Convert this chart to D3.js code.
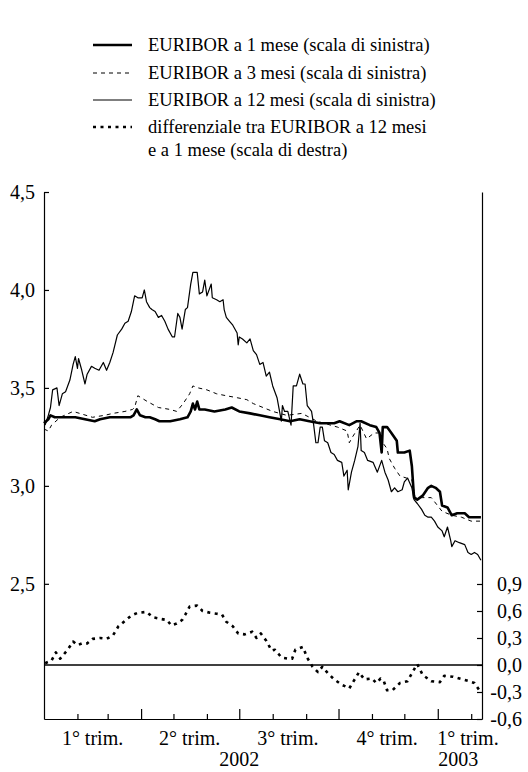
<!DOCTYPE html>
<html>
<head>
<meta charset="utf-8">
<script src="https://cdn.jsdelivr.net/npm/d3@7"></script>
<style>
  html, body { margin: 0; padding: 0; background: #fff; }
  svg { display: block; }
  svg text { font-family: "Liberation Serif", "Times New Roman", Times, "DejaVu Serif", serif; fill: #000; }
</style>
</head>
<body>
<svg id="chart" width="528" height="772"></svg>
<script>
// Daily EURIBOR rates, 2002 - early 2003. Each point is [days since 1 Jan 2002, rate %].
const euribor1m = [
  [0,3.32],[4,3.34],[6,3.36],[10,3.35],[19,3.35],[29,3.35],[38,3.34],[47,3.33],[52,3.34],
  [61,3.35],[70,3.35],[80,3.35],[83,3.36],[86,3.39],[89,3.36],[94,3.35],[98,3.35],[103,3.34],
  [107,3.33],[117,3.33],[126,3.34],[133,3.35],[136,3.38],[138,3.42],[140,3.39],[142,3.43],
  [144,3.39],[149,3.39],[158,3.38],[168,3.39],[174,3.40],[181,3.38],[191,3.37],[200,3.36],
  [209,3.35],[219,3.34],[228,3.33],[237,3.34],[246,3.33],[256,3.32],[269,3.32],[274,3.33],
  [283,3.31],[290,3.33],[294,3.33],[302,3.31],[308,3.30],[311,3.27],[313,3.17],[314,3.30],
  [318,3.30],[322,3.27],[327,3.23],[328,3.17],[334,3.17],[339,3.18],[341,3.10],[343,2.94],
  [346,2.93],[351,2.95],[356,2.99],[359,3.00],[363,2.99],[367,2.97],[369,2.90],[374,2.89],
  [378,2.85],[383,2.86],[390,2.86],[394,2.84],[405,2.84]
];
const euribor3m = [
  [0,3.29],[4,3.28],[7,3.31],[15,3.35],[27,3.38],[33,3.37],[45,3.35],[56,3.36],[64,3.37],
  [75,3.38],[82,3.39],[84,3.40],[87,3.46],[96,3.43],[106,3.40],[117,3.39],[123,3.38],
  [129,3.42],[135,3.47],[138,3.51],[143,3.50],[151,3.49],[160,3.47],[169,3.46],[179,3.45],
  [188,3.44],[194,3.42],[203,3.40],[212,3.38],[225,3.36],[239,3.37],[246,3.35],[253,3.33],
  [272,3.30],[281,3.28],[283,3.22],[286,3.25],[293,3.31],[299,3.24],[306,3.27],[311,3.27],
  [314,3.22],[318,3.19],[320,3.14],[325,3.09],[330,3.05],[336,3.04],[341,3.03],[344,2.94],
  [351,2.94],[359,2.94],[369,2.87],[378,2.85],[387,2.84],[396,2.82],[405,2.82]
];
const euribor12m = [
  [1,3.31],[4,3.36],[6,3.40],[8,3.49],[12,3.50],[14,3.41],[17,3.47],[20,3.48],[24,3.54],
  [27,3.62],[29,3.66],[31,3.60],[32,3.65],[35,3.59],[38,3.52],[40,3.57],[44,3.61],[47,3.60],
  [51,3.59],[55,3.63],[58,3.59],[61,3.63],[64,3.68],[68,3.77],[72,3.80],[75,3.83],[78,3.84],
  [81,3.89],[84,3.97],[87,3.96],[91,3.96],[93,4.00],[95,3.94],[98,3.91],[100,3.90],[103,3.89],
  [106,3.86],[109,3.87],[112,3.84],[115,3.80],[119,3.76],[121,3.76],[124,3.88],[126,3.86],
  [128,3.80],[131,3.90],[133,3.91],[136,4.03],[138,4.09],[142,4.09],[144,3.98],[147,3.99],
  [149,4.05],[151,3.97],[155,4.03],[156,3.96],[160,3.95],[163,3.94],[166,3.95],[167,3.90],
  [169,3.86],[172,3.84],[175,3.82],[179,3.78],[180,3.72],[181,3.76],[184,3.75],[188,3.73],
  [191,3.75],[194,3.69],[197,3.67],[200,3.62],[203,3.63],[206,3.56],[209,3.58],[212,3.51],
  [216,3.45],[218,3.39],[220,3.33],[221,3.41],[223,3.38],[226,3.38],[229,3.31],[231,3.51],
  [234,3.51],[237,3.57],[240,3.52],[242,3.52],[244,3.41],[248,3.38],[250,3.31],[252,3.22],
  [254,3.22],[256,3.30],[258,3.30],[260,3.23],[263,3.22],[266,3.17],[269,3.16],[272,3.13],
  [276,3.12],[278,3.05],[281,3.08],[282,2.98],[285,3.07],[288,3.13],[291,3.20],[293,3.32],
  [294,3.18],[297,3.17],[300,3.13],[305,3.12],[309,3.07],[313,3.13],[316,3.07],[319,3.03],
  [322,2.97],[325,2.99],[328,2.97],[332,2.98],[334,3.02],[337,3.04],[341,2.99],[343,2.93],
  [346,2.91],[350,2.88],[353,2.85],[356,2.84],[359,2.84],[362,2.82],[365,2.79],[369,2.77],
  [371,2.74],[374,2.79],[377,2.72],[378,2.69],[381,2.72],[385,2.71],[390,2.70],[393,2.66],
  [396,2.65],[399,2.66],[402,2.65],[405,2.62]
];
// Spread between 12-month and 1-month EURIBOR (percentage points, right-hand scale).
const spread12m1m = [
  [1,0.02],[7,0.05],[11,0.14],[15,0.07],[22,0.17],[27,0.26],[31,0.22],[35,0.24],[40,0.24],
  [45,0.29],[52,0.30],[58,0.29],[64,0.33],[69,0.43],[75,0.49],[81,0.55],[87,0.58],[95,0.59],
  [101,0.53],[109,0.51],[114,0.50],[118,0.44],[123,0.46],[128,0.50],[131,0.56],[135,0.65],
  [142,0.66],[147,0.60],[154,0.58],[160,0.57],[165,0.56],[169,0.48],[175,0.43],[180,0.35],
  [186,0.34],[193,0.37],[197,0.30],[201,0.35],[206,0.27],[211,0.16],[214,0.17],[219,0.10],
  [221,0.08],[226,0.07],[230,0.07],[233,0.17],[240,0.20],[244,0.08],[249,-0.02],[254,-0.08],
  [258,-0.02],[263,-0.09],[269,-0.16],[276,-0.22],[280,-0.24],[283,-0.26],[287,-0.18],
  [292,-0.08],[297,-0.16],[304,-0.15],[308,-0.20],[312,-0.15],[315,-0.18],[318,-0.28],
  [323,-0.28],[330,-0.20],[337,-0.18],[342,-0.07],[346,0.01],[351,-0.11],[359,-0.18],
  [367,-0.19],[371,-0.12],[379,-0.13],[388,-0.16],[394,-0.18],[399,-0.20],[404,-0.29]
];

const leftTicks = [2.5, 3.0, 3.5, 4.0, 4.5];
const rightTicks = [-0.6, -0.3, 0.0, 0.3, 0.6, 0.9];
const quarterLabels = [
  ["2002-02-15", "1° trim."], ["2002-05-16", "2° trim."], ["2002-08-15", "3° trim."],
  ["2002-11-15", "4° trim."], ["2003-01-29", "1° trim."]
];
const yearLabels = [["2002-07-01", "2002"], ["2003-01-20", "2003"]];
const legendItems = [
  { key: "1m", text: ["EURIBOR a 1 mese (scala di sinistra)"] },
  { key: "3m", text: ["EURIBOR a 3 mesi (scala di sinistra)"] },
  { key: "12m", text: ["EURIBOR a 12 mesi (scala di sinistra)"] },
  { key: "spread", text: ["differenziale tra EURIBOR a 12 mesi", "e a 1 mese (scala di destra)"] }
];

const styles = {
  "1m":     { width: 2.6, dash: null },
  "3m":     { width: 1.0, dash: "4,4" },
  "12m":    { width: 1.2, dash: null },
  "spread": { width: 2.6, dash: "3,4.5" }
};

const parse = d3.timeParse("%Y-%m-%d");
const origin = new Date(2002, 0, 1);
const toDate = d => d3.timeDay.offset(origin, d);

const plot = { left: 44, right: 482, top: 192, bottom: 719 };

const x = d3.scaleTime()
  .domain([origin, new Date(2003, 1, 11)])
  .range([plot.left, plot.right]);
const yL = d3.scaleLinear().domain([1.81, 4.5]).range([plot.bottom, plot.top]);
const yR = d3.scaleLinear().domain([-0.6, 5.255]).range([plot.bottom, plot.top]);

const svg = d3.select("#chart");
const comma = v => d3.format(".1f")(v).replace(".", ",").replace("−", "-");

// Left axis
const gL = svg.append("g").attr("transform", `translate(${plot.left},0)`)
  .call(d3.axisLeft(yL).tickValues(leftTicks).tickSizeInner(-5).tickSizeOuter(0)
    .tickPadding(9).tickFormat(comma));
// Right axis
const gR = svg.append("g").attr("transform", `translate(${plot.right},0)`)
  .call(d3.axisRight(yR).tickValues(rightTicks).tickSizeInner(-5).tickSizeOuter(0)
    .tickFormat(comma));
gR.selectAll("text").attr("text-anchor", "end").attr("x", 40);

// Bottom axis: monthly ticks, taller at the start of each quarter
const months = d3.timeMonth.range(new Date(2002, 1, 1), new Date(2003, 1, 11));
const gB = svg.append("g").attr("transform", `translate(0,${plot.bottom})`)
  .call(d3.axisBottom(x).tickValues(months).tickSizeOuter(0).tickFormat(""));
gB.selectAll(".tick line").attr("y2", d => d.getMonth() % 3 === 0 ? -10 : -5);

[gL, gR, gB].forEach(g => {
  g.attr("font-family", null);
  g.selectAll("path.domain").attr("stroke", "#000").attr("stroke-width", 1.2);
  g.selectAll(".tick line").attr("stroke", "#000").attr("stroke-width", 1.2);
  g.selectAll("text").attr("font-size", 20).attr("fill", "#000");
});

svg.append("g").selectAll("text").data(quarterLabels).join("text")
  .attr("x", d => x(parse(d[0]))).attr("y", 745)
  .attr("text-anchor", "middle").attr("font-size", 20).text(d => d[1]);
svg.append("g").selectAll("text").data(yearLabels).join("text")
  .attr("x", d => x(parse(d[0]))).attr("y", 766)
  .attr("text-anchor", "middle").attr("font-size", 20).text(d => d[1]);

// Zero reference for the right-hand scale
svg.append("line")
  .attr("x1", plot.left).attr("x2", plot.right)
  .attr("y1", yR(0)).attr("y2", yR(0))
  .attr("stroke", "#000").attr("stroke-width", 1.5);

const lineL = d3.line().x(p => x(toDate(p[0]))).y(p => yL(p[1]));
const lineR = d3.line().x(p => x(toDate(p[0]))).y(p => yR(p[1]));

const series = [
  { key: "12m", data: euribor12m, gen: lineL },
  { key: "3m", data: euribor3m, gen: lineL },
  { key: "1m", data: euribor1m, gen: lineL },
  { key: "spread", data: spread12m1m, gen: lineR }
];
svg.append("g").selectAll("path").data(series).join("path")
  .attr("d", s => s.gen(s.data))
  .attr("fill", "none").attr("stroke", "#000")
  .attr("stroke-linejoin", "round")
  .attr("stroke-width", s => styles[s.key].width)
  .attr("stroke-dasharray", s => styles[s.key].dash);

// Legend
const legend = svg.append("g");
const rowY = [51, 79, 106, 133];
legendItems.forEach((item, i) => {
  const y0 = rowY[i];
  const st = styles[item.key];
  legend.append("line")
    .attr("x1", 93).attr("x2", 132).attr("y1", y0 - 6).attr("y2", y0 - 6)
    .attr("stroke", "#000").attr("stroke-width", st.width)
    .attr("stroke-dasharray", st.dash);
  item.text.forEach((t, j) => {
    legend.append("text").attr("x", 148).attr("y", y0 + j * 23)
      .attr("font-size", 18.5).text(t);
  });
});
</script>
</body>
</html>
